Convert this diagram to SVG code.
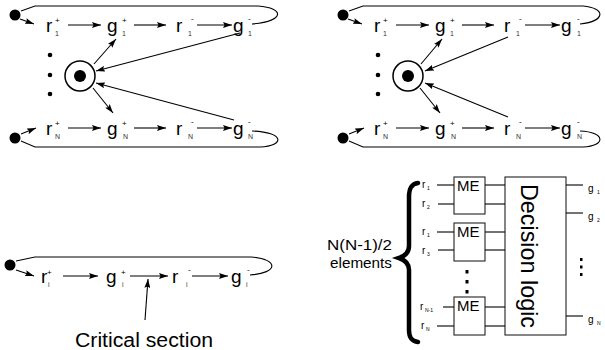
<svg xmlns="http://www.w3.org/2000/svg" width="605" height="350" viewBox="0 0 605 350">
  <defs>
    <marker id="ah" viewBox="0 0 9 6" refX="9" refY="3" markerWidth="9" markerHeight="6" markerUnits="userSpaceOnUse" orient="auto">
      <path d="M0,0 L9,3 L0,6 L1.5,3 z" fill="#000"/>
    </marker>
    <style>
      text { font-family: "Liberation Sans", Arial, sans-serif; fill: #000; }
      .m { font-size: 19px; }
      .sp { font-size: 8px; }
      .sb { font-size: 7px; fill: #333; }
      .ln { stroke: #000; stroke-width: 1.1; fill: none; }
      .ar { stroke: #000; stroke-width: 1.1; fill: none; marker-end: url(#ah); }
      .bx { stroke: #222; stroke-width: 1.1; fill: #fff; }
      .sm { font-size: 10px; }
      .tn { font-size: 5px; }
    </style>
  </defs>
  <rect width="605" height="350" fill="#fff"/>

  <!-- ===== Top-left: ring with arbiter token ===== -->
  <g id="tl">
    <g id="tl-start1"><circle cx="15" cy="15" r="5.5" fill="#000"/></g>
    <g id="tl-startN"><circle cx="15" cy="138" r="5.5" fill="#000"/></g>
    <g id="tl-r1p"><text class="m" x="46" y="32">r</text><text class="sp" x="55" y="23">+</text><text class="sb" x="55" y="36">1</text></g>
    <g id="tl-g1p"><text class="m" x="107" y="32">g</text><text class="sp" x="122" y="23">+</text><text class="sb" x="122" y="36">1</text></g>
    <g id="tl-r1m"><text class="m" x="176" y="32">r</text><text class="sp" x="191" y="21">-</text><text class="sb" x="188" y="36">1</text></g>
    <g id="tl-g1m"><text class="m" x="233" y="32">g</text><text class="sp" x="248" y="21">-</text><text class="sb" x="248" y="36">1</text></g>
    <g id="tl-rNp"><text class="m" x="46" y="135">r</text><text class="sp" x="55" y="126">+</text><text class="sb" x="55" y="139">N</text></g>
    <g id="tl-gNp"><text class="m" x="107" y="135">g</text><text class="sp" x="122" y="126">+</text><text class="sb" x="123" y="139">N</text></g>
    <g id="tl-rNm"><text class="m" x="176" y="135">r</text><text class="sp" x="191" y="124">-</text><text class="sb" x="188" y="139">N</text></g>
    <g id="tl-gNm"><text class="m" x="233" y="135">g</text><text class="sp" x="248" y="124">-</text><text class="sb" x="248" y="139">N</text></g>
    <g id="tl-dots"><circle cx="50" cy="55" r="2.3"/><circle cx="50" cy="75" r="2.3"/><circle cx="50" cy="94" r="2.3"/></g>
    <g id="tl-token"><circle cx="80" cy="76" r="15" fill="none" stroke="#000" stroke-width="1.5"/><circle cx="80" cy="76" r="6" fill="#000"/></g>
  </g>
  <g id="tl-connectors">
    <path class="ln" d="M21,11 L35,6 L258,6 C285,8 285,21 252,24"/>
    <path class="ln" d="M21,141 L35,147 L260,147 C285,146 285,132 252,131"/>
    <line class="ar" x1="20" y1="19" x2="34" y2="24"/>
    <line class="ar" x1="21" y1="134" x2="36" y2="128"/>
    <line class="ar" x1="68" y1="25" x2="101" y2="25"/>
    <line class="ar" x1="134" y1="25" x2="166" y2="25"/>
    <line class="ar" x1="197" y1="25" x2="232" y2="25"/>
    <line class="ar" x1="68" y1="128" x2="101" y2="128"/>
    <line class="ar" x1="134" y1="128" x2="166" y2="128"/>
    <line class="ar" x1="197" y1="128" x2="232" y2="128"/>
    <line class="ar" x1="94" y1="64" x2="116" y2="39"/>
    <line class="ar" x1="93" y1="88" x2="113" y2="113"/>
    <line class="ar" x1="240" y1="33" x2="96" y2="71"/>
    <line class="ar" x1="234" y1="120" x2="96" y2="83"/>
  </g>

  <!-- ===== Top-right: same ring, release sends token back ===== -->
  <g id="tr">
    <g id="tr-start1"><circle cx="343" cy="15" r="5.5" fill="#000"/></g>
    <g id="tr-startN"><circle cx="343" cy="138" r="5.5" fill="#000"/></g>
    <g id="tr-r1p"><text class="m" x="374" y="32">r</text><text class="sp" x="383" y="23">+</text><text class="sb" x="383" y="36">1</text></g>
    <g id="tr-g1p"><text class="m" x="435" y="32">g</text><text class="sp" x="450" y="23">+</text><text class="sb" x="450" y="36">1</text></g>
    <g id="tr-r1m"><text class="m" x="504" y="32">r</text><text class="sp" x="519" y="21">-</text><text class="sb" x="516" y="36">1</text></g>
    <g id="tr-g1m"><text class="m" x="561" y="32">g</text><text class="sp" x="577" y="21">-</text><text class="sb" x="577" y="36">1</text></g>
    <g id="tr-rNp"><text class="m" x="374" y="135">r</text><text class="sp" x="383" y="126">+</text><text class="sb" x="383" y="139">N</text></g>
    <g id="tr-gNp"><text class="m" x="435" y="135">g</text><text class="sp" x="450" y="126">+</text><text class="sb" x="451" y="139">N</text></g>
    <g id="tr-rNm"><text class="m" x="504" y="135">r</text><text class="sp" x="519" y="124">-</text><text class="sb" x="516" y="139">N</text></g>
    <g id="tr-gNm"><text class="m" x="561" y="135">g</text><text class="sp" x="577" y="124">-</text><text class="sb" x="577" y="139">N</text></g>
    <g id="tr-dots"><circle cx="378" cy="55" r="2.3"/><circle cx="378" cy="75" r="2.3"/><circle cx="378" cy="94" r="2.3"/></g>
    <g id="tr-token"><circle cx="408" cy="76" r="15" fill="none" stroke="#000" stroke-width="1.5"/><circle cx="408" cy="76" r="6" fill="#000"/></g>
  </g>
  <g id="tr-connectors">
    <path class="ln" d="M349,11 L363,6 L583,6 C606,8 606,21 580,24"/>
    <path class="ln" d="M349,141 L363,147 L583,147 C606,146 606,132 580,131"/>
    <line class="ar" x1="348" y1="19" x2="362" y2="24"/>
    <line class="ar" x1="349" y1="134" x2="364" y2="128"/>
    <line class="ar" x1="396" y1="25" x2="429" y2="25"/>
    <line class="ar" x1="462" y1="25" x2="494" y2="25"/>
    <line class="ar" x1="525" y1="25" x2="560" y2="25"/>
    <line class="ar" x1="396" y1="128" x2="429" y2="128"/>
    <line class="ar" x1="462" y1="128" x2="494" y2="128"/>
    <line class="ar" x1="525" y1="128" x2="560" y2="128"/>
    <line class="ar" x1="421" y1="64" x2="442" y2="39"/>
    <line class="ar" x1="420" y1="88" x2="440" y2="113"/>
    <line class="ar" x1="508" y1="37" x2="425" y2="71"/>
    <line class="ar" x1="508" y1="117" x2="425" y2="83"/>
  </g>

  <!-- ===== Bottom-left: single cycle with critical section ===== -->
  <g id="bl">
    <g id="bl-start"><circle cx="10" cy="265" r="5.5" fill="#000"/></g>
    <g id="bl-rip"><text class="m" x="41" y="283">r</text><text class="sp" x="47" y="275">+</text><text class="sb" x="48" y="287">i</text></g>
    <g id="bl-gip"><text class="m" x="106" y="283">g</text><text class="sp" x="121" y="275">+</text><text class="sb" x="122" y="287">i</text></g>
    <g id="bl-rim"><text class="m" x="172" y="283">r</text><text class="sp" x="188" y="272">-</text><text class="sb" x="186" y="287">i</text></g>
    <g id="bl-gim"><text class="m" x="231" y="283">g</text><text class="sp" x="247" y="272">-</text><text class="sb" x="246" y="287">i</text></g>
    <g id="bl-caption"><text x="75" y="347" font-size="20" textLength="138" lengthAdjust="spacingAndGlyphs">Critical section</text></g>
  </g>
  <g id="bl-connectors">
    <path class="ln" d="M16,261 L35,257 L251,257 C279,259 279,273 250,275"/>
    <line class="ar" x1="16" y1="270" x2="34" y2="276"/>
    <line class="ar" x1="63" y1="276" x2="98" y2="276"/>
    <line class="ar" x1="130" y1="276" x2="168" y2="276"/>
    <line class="ar" x1="192" y1="276" x2="228" y2="276"/>
    <line class="ar" x1="145" y1="320" x2="148" y2="279"/>
  </g>

  <!-- ===== Bottom-right: pairwise mutex elements + decision logic ===== -->
  <g id="br">
    <g id="br-label">
      <text x="327" y="250" font-size="14" textLength="65" lengthAdjust="spacingAndGlyphs">N(N-1)/2</text>
      <text x="330" y="268" font-size="14" textLength="62" lengthAdjust="spacingAndGlyphs">elements</text>
    </g>
    <g id="br-brace"><path d="M418,183 C411,184 409,189 409,197 L409,246 C409,252 405,256 399,258 C405,260 409,264 409,270 L409,330 C409,337 411,341 418,342" fill="none" stroke="#000" stroke-width="4.5" stroke-linecap="round"/></g>
    <g id="br-me1"><rect class="bx" x="454" y="177" width="31" height="37"/><text x="457" y="191" font-size="15">ME</text></g>
    <g id="br-me2"><rect class="bx" x="454" y="223" width="31" height="38"/><text x="457" y="237" font-size="15">ME</text></g>
    <g id="br-me3"><rect class="bx" x="454" y="297" width="31" height="38"/><text x="457" y="311" font-size="15">ME</text></g>
    <g id="br-medots"><rect x="465.5" y="270" width="3" height="3.5"/><rect x="465.5" y="280" width="3" height="3.5"/><rect x="465.5" y="290" width="3" height="3.5"/></g>
    <g id="br-logic"><rect class="bx" x="505" y="177" width="61" height="158"/><text transform="translate(521,184) rotate(90)" font-size="24" textLength="144" lengthAdjust="spacingAndGlyphs">Decision logic</text></g>
    <g id="br-in">
      <text class="sm" x="422" y="188">r</text><text class="tn" x="427" y="190">1</text>
      <text class="sm" x="422" y="207">r</text><text class="tn" x="427" y="209">2</text>
      <text class="sm" x="422" y="235">r</text><text class="tn" x="427" y="237">1</text>
      <text class="sm" x="422" y="254">r</text><text class="tn" x="427" y="256">3</text>
      <text class="sm" x="420" y="310">r</text><text class="tn" x="425" y="312">N-1</text>
      <text class="sm" x="421" y="329">r</text><text class="tn" x="426" y="331">N</text>
    </g>
    <g id="br-out">
      <text class="sm" x="588" y="192" font-size="11">g</text><text class="tn" x="597" y="194">1</text>
      <text class="sm" x="588" y="220" font-size="11">g</text><text class="tn" x="597" y="222">2</text>
      <text class="sm" x="588" y="323" font-size="11">g</text><text class="tn" x="597" y="325">N</text>
    </g>
    <g id="br-outdots"><rect x="580" y="258" width="2.5" height="3"/><rect x="580" y="265.5" width="2.5" height="3"/><rect x="580" y="273" width="2.5" height="3"/></g>
  </g>
  <g id="br-connectors" class="ln">
    <line x1="437" y1="185" x2="454" y2="185"/>
    <line x1="438" y1="204" x2="454" y2="204"/>
    <line x1="437" y1="232" x2="454" y2="232"/>
    <line x1="438" y1="250" x2="454" y2="250"/>
    <line x1="443" y1="307" x2="454" y2="307"/>
    <line x1="437" y1="326" x2="454" y2="326"/>
    <line x1="485" y1="185" x2="505" y2="185"/>
    <line x1="485" y1="204" x2="505" y2="204"/>
    <line x1="485" y1="232" x2="505" y2="232"/>
    <line x1="485" y1="250" x2="505" y2="250"/>
    <line x1="485" y1="307" x2="505" y2="307"/>
    <line x1="485" y1="326" x2="505" y2="326"/>
    <line x1="566" y1="185" x2="583" y2="185"/>
    <line x1="566" y1="213" x2="583" y2="213"/>
    <line x1="566" y1="316" x2="583" y2="316"/>
  </g>
</svg>
